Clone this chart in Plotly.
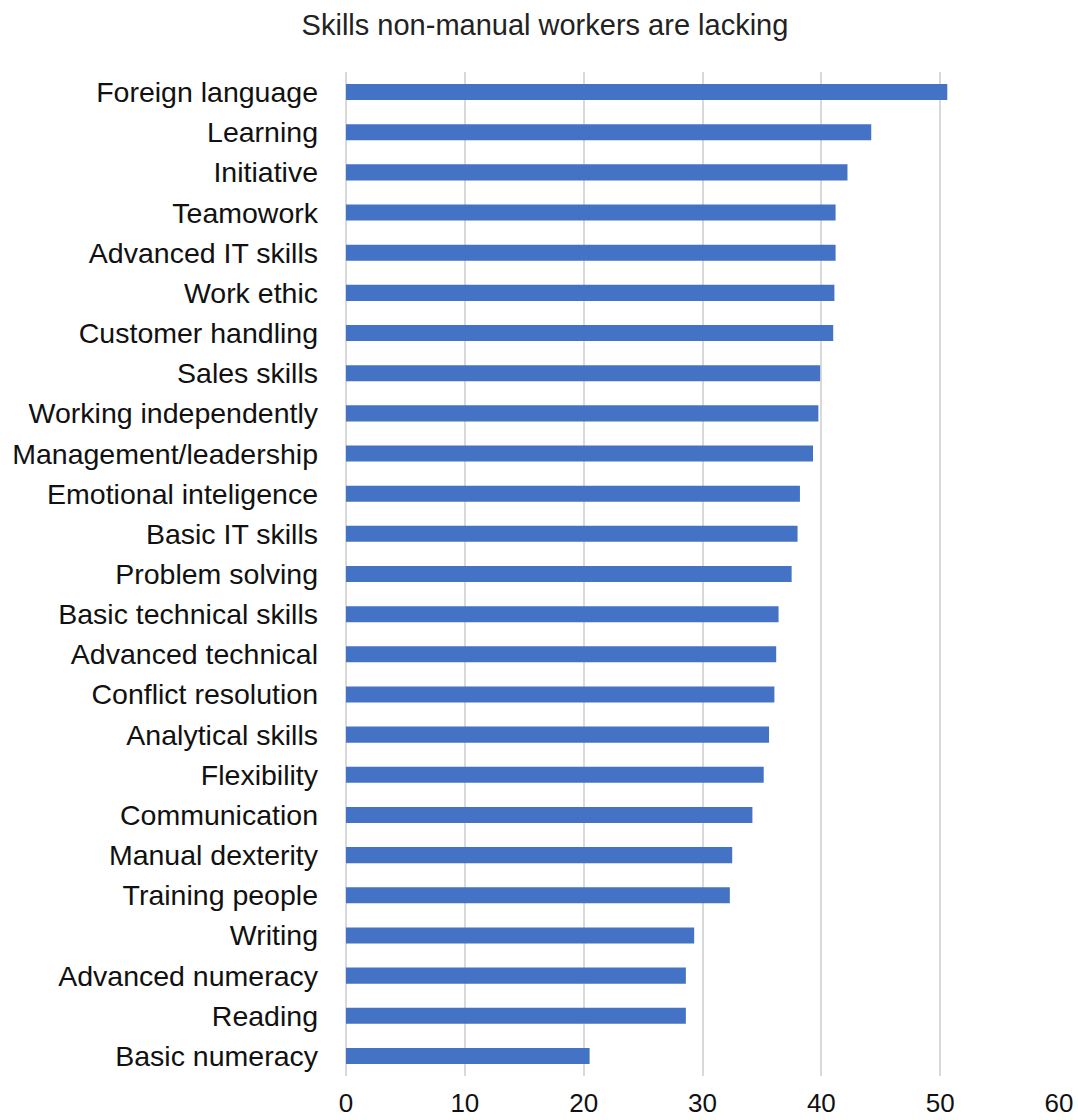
import plotly.graph_objects as go

# Skills reported as lacking among non-manual workers (share, %)
skills = [
    "Foreign language", "Learning", "Initiative", "Teamowork", "Advanced IT skills",
    "Work ethic", "Customer handling", "Sales skills", "Working independently",
    "Management/leadership", "Emotional inteligence", "Basic IT skills",
    "Problem solving", "Basic technical skills", "Advanced technical",
    "Conflict resolution", "Analytical skills", "Flexibility", "Communication",
    "Manual dexterity", "Training people", "Writing", "Advanced numeracy",
    "Reading", "Basic numeracy",
]
values = [
    50.6, 44.2, 42.2, 41.2, 41.2,
    41.1, 41.0, 39.9, 39.75,
    39.3, 38.2, 38.0,
    37.5, 36.4, 36.2,
    36.05, 35.6, 35.15, 34.2,
    32.5, 32.3, 29.3, 28.6,
    28.6, 20.5,
]
x_ticks = [0, 10, 20, 30, 40, 50, 60]

FONT = "Liberation Sans, Arial, sans-serif"

fig = go.Figure(
    go.Bar(
        x=values,
        y=skills,
        orientation="h",
        marker=dict(color="#4472C4", line=dict(width=0)),
    )
)

fig.update_layout(
    width=1078,
    height=1120,
    margin=dict(l=346, r=19, t=72, b=44, autoexpand=False),
    paper_bgcolor="white",
    plot_bgcolor="white",
    bargap=0.6,
    showlegend=False,
    font=dict(family=FONT, size=28, color="#111111"),
    title=dict(
        text="Skills non-manual workers are lacking",
        x=545 / 1078,
        xanchor="center",
        y=1 - 25 / 1120,
        yanchor="middle",
        font=dict(family=FONT, size=29, color="#222222"),
    ),
)

fig.update_xaxes(
    range=[0, 60],
    tickvals=x_ticks,
    showgrid=True,
    gridcolor="#d9d9d9",
    gridwidth=2,
    zeroline=True,
    zerolinecolor="#d9d9d9",
    zerolinewidth=2,
    showline=False,
    ticks="",
    automargin=False,
    ticklabelstandoff=9,
    tickfont=dict(family=FONT, size=26, color="#111111"),
)

fig.update_yaxes(
    categoryorder="array",
    categoryarray=skills[::-1],
    showgrid=False,
    showline=False,
    ticks="",
    automargin=False,
    ticklabelstandoff=27,
    tickfont=dict(family=FONT, size=28.5, color="#111111"),
)

fig.write_html("out.html")
